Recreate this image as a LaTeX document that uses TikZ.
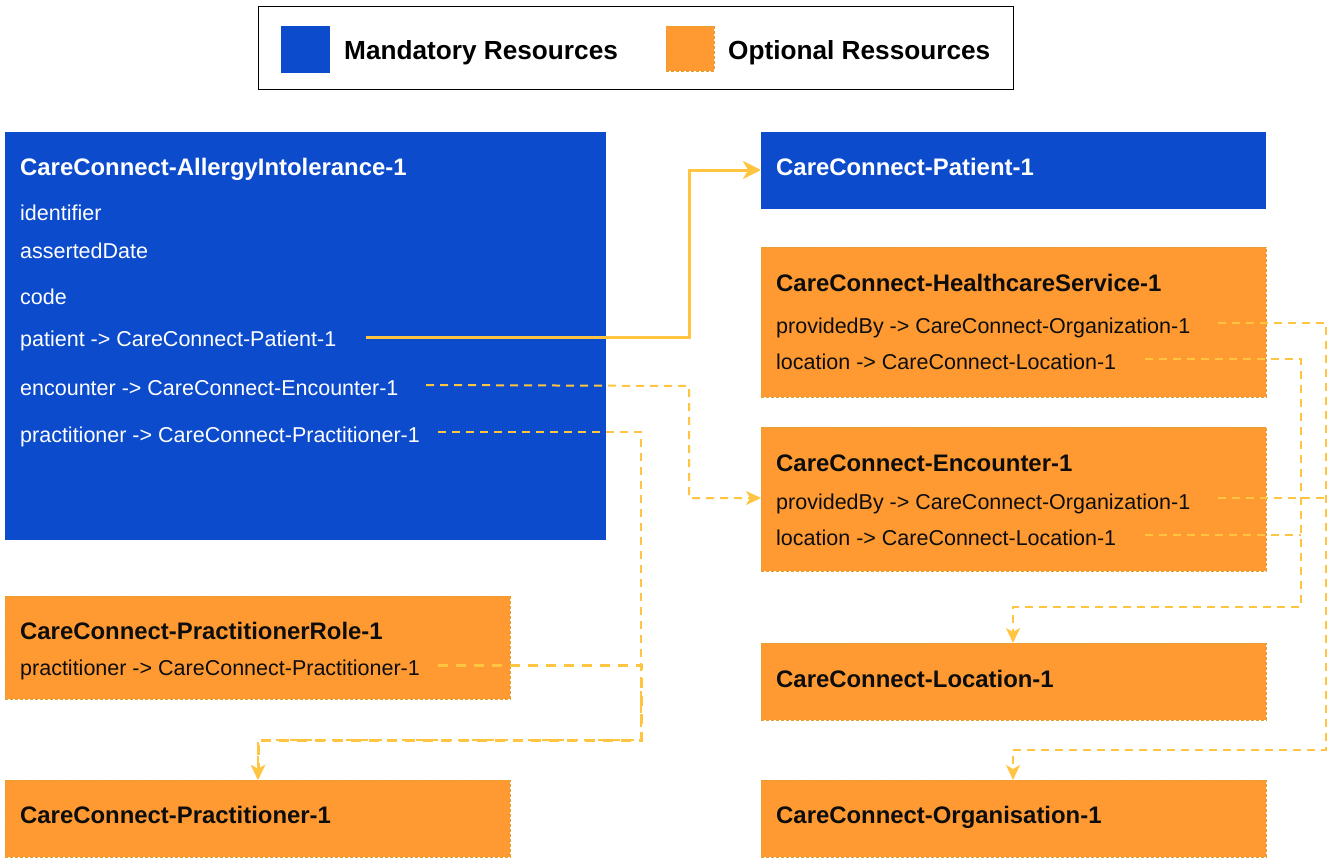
\documentclass[tikz,border=0pt]{standalone}
\usepackage{fontspec}
\setmainfont{Liberation Sans}
\usetikzlibrary{arrows.meta}
\definecolor{mblue}{HTML}{0C4BCC}
\definecolor{oorange}{HTML}{FF9A33}
\definecolor{oborder}{HTML}{E0A030}
\definecolor{lyellow}{HTML}{FFC440}
\begin{document}
\begin{tikzpicture}[x=1pt,y=-1pt,
  mand/.style={fill=mblue, draw=none, anchor=north west, inner sep=0},
  opt/.style={fill=oorange, draw=oborder, dashed, dash pattern=on 3pt off 2pt, line width=0.8pt, anchor=north west, inner sep=0},
  ttl/.style={anchor=base west, font=\bfseries\fontsize{23.9}{28}\selectfont, inner sep=0},
  fld/.style={anchor=base west, font=\fontsize{21.5}{26}\selectfont, inner sep=0},
  lgd/.style={anchor=base west, font=\bfseries\fontsize{26.2}{30}\selectfont, inner sep=0},
  solidlink/.style={draw=lyellow, line width=3pt, -{Stealth[length=18pt,width=18pt,inset=5pt]}},
  dashlink/.style={draw=lyellow, line width=2pt, dash pattern=on 8pt off 6pt},
  thicklink/.style={draw=lyellow, line width=3pt, dash pattern=on 10pt off 8pt},
  tip/.style={-{Stealth[length=15pt,width=14pt,inset=4pt]}}
]
\useasboundingbox (0,0) rectangle (1344,865);

% legend
\node[draw=black, line width=1pt, anchor=north west, minimum width=755, minimum height=83, inner sep=0] (legend) at (258,6) {};
\node[mand, minimum width=49, minimum height=47] (lgblue) at (281,26) {};
\node[lgd] (lgmand) at (344,59) {Mandatory Resources};
\node[opt, minimum width=48, minimum height=45] (lgorange) at (666,26) {};
\node[lgd] (lgopt) at (728,59) {Optional Ressources};

% boxes
\node[mand, minimum width=601, minimum height=408] (allergy) at (5,132) {};
\node[mand, minimum width=505, minimum height=77] (patient) at (761,132) {};
\node[opt, minimum width=505, minimum height=150] (hcs) at (761,247) {};
\node[opt, minimum width=505, minimum height=144] (enc) at (761,427) {};
\node[opt, minimum width=505, minimum height=77] (loc) at (761,643) {};
\node[opt, minimum width=505, minimum height=77] (org) at (761,780) {};
\node[opt, minimum width=505, minimum height=103] (prole) at (5,596) {};
\node[opt, minimum width=505, minimum height=77] (prac) at (5,780) {};

% texts
\begin{scope}[every node/.append style={text=white}]
\node[ttl] (t1) at (20,175) {CareConnect-AllergyIntolerance-1};
\node[fld] (f1) at (20,220) {identifier};
\node[fld] (f2) at (20,258) {assertedDate};
\node[fld] (f3) at (20,304) {code};
\node[fld] (f4) at (20,346) {patient -> CareConnect-Patient-1};
\node[fld] (f5) at (20,395) {encounter -> CareConnect-Encounter-1};
\node[fld] (f6) at (20,442) {practitioner -> CareConnect-Practitioner-1};
\node[ttl] (t2) at (776,175) {CareConnect-Patient-1};
\end{scope}
\begin{scope}[every node/.append style={text=black!95}]
\node[ttl] (t3) at (776,291) {CareConnect-HealthcareService-1};
\node[fld] (h1) at (776,333) {providedBy -> CareConnect-Organization-1};
\node[fld] (h2) at (776,369) {location -> CareConnect-Location-1};
\node[ttl] (t4) at (776,471) {CareConnect-Encounter-1};
\node[fld] (e1) at (776,509) {providedBy -> CareConnect-Organization-1};
\node[fld] (e2) at (776,545) {location -> CareConnect-Location-1};
\node[ttl] (t5) at (776,687) {CareConnect-Location-1};
\node[ttl] (t6) at (776,823) {CareConnect-Organisation-1};
\node[ttl] (t7) at (20,639) {CareConnect-PractitionerRole-1};
\node[fld] (r1) at (20,675) {practitioner -> CareConnect-Practitioner-1};
\node[ttl] (t8) at (20,823) {CareConnect-Practitioner-1};
\end{scope}

% connector anchor coordinates
\coordinate (sPat) at (366,337);
\coordinate (sEnc) at (426,385);
\coordinate (sPr) at (438,432);
\coordinate (sPR) at (438,665);
\coordinate (sHP) at (1218,323);
\coordinate (sHL) at (1145,359);
\coordinate (sEP) at (1218,498);
\coordinate (sEL) at (1145,535);

% connectors
\draw[solidlink] (sPat) -- (689,337) -- (689,170) -- (patient.west |- 0,170);
\draw[dashlink,tip] (sEnc) -- (689,386) -- (689,498) -- (enc.west |- 0,498);
\draw[dashlink,tip] (sPr) -- (641,432) -- (641,740) -- (258,740) -- (258,780);
\draw[thicklink,tip] (sPR) -- (641,665) -- (641,740) -- (258,740) -- (prac.north -| 258,0);
\draw[dashlink,tip] (sHP) -- (1326,323) -- (1326,750) -- (1013,750) -- (org.north -| 1013,0);
\draw[dashlink] (sEP) -- (1326,498);
\draw[dashlink,tip] (sHL) -- (1301,359) -- (1301,607) -- (1013,607) -- (loc.north -| 1013,0);
\draw[dashlink] (sEL) -- (1301,535);
\end{tikzpicture}
\end{document}
